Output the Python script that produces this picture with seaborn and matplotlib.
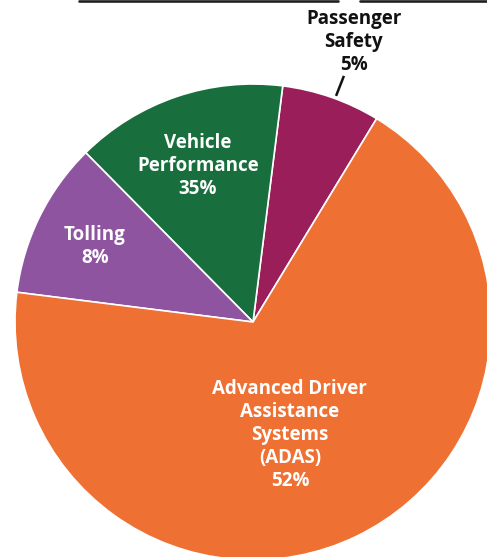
import matplotlib
matplotlib.use("Agg")
import matplotlib.pyplot as plt
from matplotlib.lines import Line2D
import seaborn as sns

# slice sizes as drawn (degrees converted to shares), counterclockwise from Passenger Safety
segments = ["Passenger\nSafety", "Vehicle\nPerformance", "Tolling", "Advanced Driver\nAssistance\nSystems\n(ADAS)"]
shares = [6.7, 14.4, 10.6, 68.3]
pct_labels = ["5%", "35%", "8%", "52%"]
colors = ["#9A1E5A", "#186F3D", "#8E54A0", "#EE7032"]

sns.set_theme(style="white")
plt.rcParams["font.family"] = ["Open Sans", "DejaVu Sans"]

fig = plt.figure(figsize=(4.87, 5.57), dpi=100)
ax = fig.add_axes([0, 0, 1, 1])
ax.pie(shares, colors=colors, startangle=58.7, counterclock=True, radius=1,
       wedgeprops=dict(edgecolor="white", linewidth=1.2))
ax.set_aspect("auto")
ax.set_xlim(-253 / 238, (487 - 253) / 238)
ax.set_ylim(-(557 - 322) / 238, 322 / 238)
ax.axis("off")

# label placements (data coords)
pos = [(0.424, 1.177), (-0.231, 0.656), (-0.664, 0.316), (0.155, -0.474)]
txt_col = ["#111111", "white", "white", "white"]
for name, pct, (x, y), c in zip(segments, pct_labels, pos, txt_col):
    ax.text(x, y, f"{name}\n{pct}", ha="center", va="center", color=c,
            fontsize=13.5, fontweight="bold", linespacing=1.2)

# leader line for the small slice
ax.plot([0.349, 0.382], [0.950, 1.034], color="#111111", lw=1.8, solid_capstyle="butt")

# bars at the top edge
fig.add_artist(Line2D([79 / 487, 338 / 487], [0.9975, 0.9975], color="#231F20", lw=1.9))
fig.add_artist(Line2D([360 / 487, 1.0], [0.9975, 0.9975], color="#231F20", lw=1.9))

fig.savefig("out.png", dpi=100)
